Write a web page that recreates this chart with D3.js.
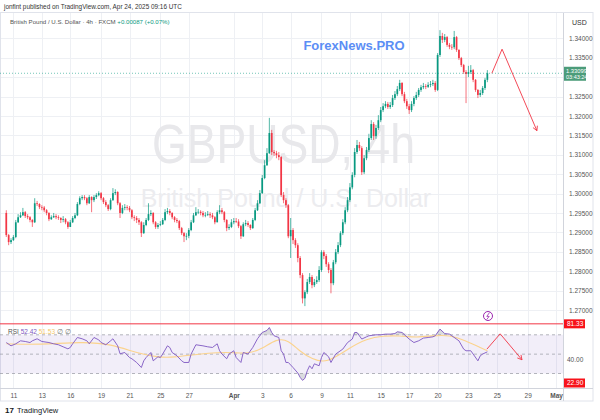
<!DOCTYPE html>
<html><head><meta charset="utf-8">
<script src="https://cdn.jsdelivr.net/npm/d3@7"></script>
<style>body{margin:0;background:#fff}svg{display:block;font-family:"Liberation Sans",Arial,sans-serif}</style>
</head><body><svg id="c" width="600" height="420"></svg>
<script>
// ---------- data ----------
const firstBar = -3;
const firstOpen = 1.2950;
const closes = [1.2893,1.2875,1.2880,1.2888,1.2926,1.2939,1.2944,1.2952,1.2942,1.2939,1.2932,1.2926,1.2975,
1.2973,1.2965,1.2964,1.2957,1.2950,1.2934,1.2939,1.2942,1.2939,1.2937,
1.2932,1.2934,1.2926,1.2914,1.2926,1.2937,1.2944,1.2973,1.2988,1.2991,
1.2988,1.2975,1.2991,1.2983,1.2991,1.2996,1.3001,1.2988,1.2978,1.2970,
1.2960,1.2983,1.3001,1.3004,1.2975,1.2950,1.2963,1.2965,1.2963,1.2957,
1.2939,1.2937,1.2932,1.2926,1.2898,1.2919,1.2932,1.2947,1.2950,1.2926,
1.2914,1.2919,1.2921,1.2932,1.2952,1.2955,1.2950,1.2939,1.2932,1.2929,
1.2911,1.2898,1.2890,1.2891,1.2906,1.2926,1.2944,1.2952,1.2953,1.2950,
1.2944,1.2945,1.2947,1.2944,1.2939,1.2926,1.2952,1.2957,1.2952,1.2932,
1.2911,1.2914,1.2926,1.2929,1.2928,1.2916,1.2890,1.2921,1.2924,1.2919,
1.2911,1.2932,1.2957,1.2975,1.3001,1.3040,1.3073,1.3104,1.3156,1.3107,
1.3104,1.3099,1.3094,1.2996,1.2983,1.2970,1.2890,1.2906,1.2880,1.2867,
1.2834,1.2790,1.2730,1.2746,1.2772,1.2785,1.2764,1.2772,1.2777,1.2803,
1.2849,1.2839,1.2818,1.2803,1.2769,1.2823,1.2849,1.2867,1.2898,1.2926,
1.2957,1.2983,1.3016,1.3048,1.3107,1.3125,1.3117,1.3055,1.3091,1.3112,
1.3143,1.3179,1.3148,1.3169,1.3189,1.3215,1.3225,1.3231,1.3223,1.3228,
1.3246,1.3256,1.3269,1.3285,1.3256,1.3238,1.3225,1.3215,1.3231,1.3246,
1.3254,1.3267,1.3274,1.3277,1.3275,1.3280,1.3282,1.3285,1.3267,1.3357,
1.3406,1.3396,1.3403,1.3383,1.3378,1.3377,1.3403,1.3370,1.3349,1.3331,
1.3313,1.3308,1.3313,1.3318,1.3293,1.3267,1.3254,1.3259,1.3272,1.3293,1.33099];
const highs = [1.2957,1.2896,1.2885,1.2893,1.2932,1.2947,1.2952,1.2963,1.2955,1.2947,1.2942,1.2934,1.2988,
1.2981,1.2975,1.2970,1.2968,1.2960,1.2952,1.2944,1.2950,1.2947,1.2944,
1.2939,1.2942,1.2937,1.2929,1.2932,1.2942,1.2950,1.2978,1.2993,1.2996,
1.2996,1.2991,1.2996,1.2993,1.2996,1.3001,1.3006,1.3004,1.2991,1.2983,
1.2973,1.2988,1.3014,1.3011,1.3006,1.2978,1.2970,1.2973,1.2970,1.2968,
1.2960,1.2944,1.2942,1.2937,1.2929,1.2926,1.2937,1.2975,1.2957,1.2952,
1.2929,1.2924,1.2929,1.2937,1.2960,1.2963,1.2960,1.2952,1.2942,1.2937,
1.2932,1.2914,1.2901,1.2898,1.2911,1.2932,1.2950,1.2965,1.2960,1.2957,
1.2955,1.2952,1.2955,1.2952,1.2950,1.2942,1.2957,1.2970,1.2963,1.2955,
1.2934,1.2921,1.2934,1.2937,1.2937,1.2934,1.2919,1.2926,1.2932,1.2929,
1.2921,1.2937,1.2963,1.2983,1.3009,1.3048,1.3086,1.3117,1.3195,1.3164,
1.3112,1.3110,1.3107,1.3097,1.3004,1.2988,1.2973,1.2937,1.2911,1.2885,
1.2872,1.2839,1.2795,1.2751,1.2780,1.2795,1.2790,1.2780,1.2787,1.2813,
1.2854,1.2854,1.2844,1.2823,1.2808,1.2829,1.2857,1.2875,1.2903,1.2934,
1.2965,1.2991,1.3027,1.3055,1.3117,1.3138,1.3133,1.3122,1.3099,1.3120,
1.3154,1.3189,1.3184,1.3177,1.3202,1.3223,1.3233,1.3238,1.3236,1.3236,
1.3254,1.3264,1.3277,1.3293,1.3287,1.3262,1.3244,1.3231,1.3238,1.3251,
1.3262,1.3272,1.3280,1.3285,1.3282,1.3287,1.3290,1.3293,1.3290,1.3362,
1.3421,1.3414,1.3411,1.3406,1.3388,1.3385,1.3419,1.3406,1.3372,1.3352,
1.3334,1.3318,1.3329,1.3331,1.3321,1.3295,1.3269,1.3267,1.3277,1.3298,1.3318];
const lows = [1.2888,1.2867,1.2870,1.2878,1.2885,1.2924,1.2937,1.2942,1.2937,1.2934,1.2926,1.2914,1.2924,
1.2968,1.2960,1.2957,1.2952,1.2944,1.2929,1.2932,1.2937,1.2934,1.2932,
1.2924,1.2926,1.2921,1.2909,1.2914,1.2924,1.2934,1.2942,1.2970,1.2983,
1.2983,1.2970,1.2973,1.2952,1.2978,1.2986,1.2993,1.2983,1.2973,1.2965,
1.2955,1.2957,1.2981,1.2996,1.2970,1.2937,1.2947,1.2957,1.2957,1.2952,
1.2934,1.2929,1.2924,1.2919,1.2888,1.2896,1.2916,1.2929,1.2942,1.2921,
1.2909,1.2909,1.2916,1.2919,1.2929,1.2947,1.2944,1.2934,1.2926,1.2924,
1.2906,1.2893,1.2875,1.2880,1.2885,1.2903,1.2924,1.2942,1.2947,1.2944,
1.2939,1.2939,1.2942,1.2937,1.2934,1.2921,1.2926,1.2947,1.2947,1.2926,
1.2903,1.2906,1.2911,1.2921,1.2924,1.2911,1.2883,1.2888,1.2916,1.2914,
1.2906,1.2909,1.2929,1.2955,1.2973,1.2999,1.3037,1.3071,1.3102,1.3099,
1.3097,1.3091,1.3086,1.2991,1.2975,1.2963,1.2885,1.2834,1.2870,1.2860,
1.2823,1.2782,1.2717,1.2710,1.2741,1.2767,1.2756,1.2759,1.2767,1.2772,
1.2798,1.2831,1.2811,1.2795,1.2743,1.2764,1.2818,1.2844,1.2862,1.2893,
1.2921,1.2952,1.2978,1.3011,1.3042,1.3102,1.3110,1.3048,1.3050,1.3086,
1.3107,1.3138,1.3138,1.3141,1.3164,1.3184,1.3210,1.3220,1.3218,1.3218,
1.3223,1.3241,1.3251,1.3264,1.3251,1.3233,1.3218,1.3205,1.3210,1.3225,
1.3241,1.3249,1.3262,1.3269,1.3269,1.3272,1.3274,1.3277,1.3262,1.3264,
1.3352,1.3388,1.3390,1.3378,1.3372,1.3370,1.3372,1.3365,1.3344,1.3326,
1.3308,1.3233,1.3300,1.3308,1.3287,1.3262,1.3246,1.3249,1.3254,1.3267,1.3287];

const rsiBars = [-3,-1,1,3,5,7,8,10,12,15,17,19,21,23,24,25,27,29,31,32,34,36,37,39,41,42,44,45,47,49,50,52,54,55,56,58,59,61,62,63,65,66,67,69,71,72,74,75,77,80,82,84,86,87,88,90,91,93,94,96,97,99,101,103,105,107,108,109,110,112,113,114,115,116,118,120,121,122,123,124,125,126,127,129,130,131,133,134,136,139,141,143,144,145,147,149,150,153,155,157,159,161,162,164,167,169,171,173,175,177,178,180,182,184,185,188,190,191,193,194,196,197,198,200];
const rsiVals = [62.0,58.6,60.7,63.8,63.1,62.0,63.8,65.9,63.1,62.0,60.7,59.7,57.6,55.5,56.9,60.7,67.2,65.9,63.8,60.7,67.2,64.8,62.0,59.7,63.8,65.9,58.6,50.4,51.7,46.5,45.2,41.4,36.2,43.1,46.5,51.7,43.1,47.3,46.5,50.1,58.6,56.9,51.7,48.3,43.1,41.4,41.4,50.1,59.7,58.6,57.6,56.9,60.7,53.5,50.1,45.2,50.1,53.5,46.5,41.4,51.7,50.1,56.9,65.9,72.4,74.5,77.5,72.4,69.0,67.2,53.5,50.1,41.4,41.4,36.2,30.5,26.0,22.9,25.0,32.8,38.0,34.9,40.0,38.0,46.5,51.7,47.3,41.4,50.1,55.2,62.0,65.6,72.4,72.4,65.6,67.9,69.0,70.0,70.0,70.7,70.7,71.3,73.1,72.4,65.6,62.0,63.8,66.6,67.2,67.9,69.0,75.9,71.3,70.7,69.0,63.8,55.2,53.5,53.5,50.1,43.1,48.3,50.1,52.4];
const maBars = [-3,11,29,41,53,62,67,79,86,93,99,105,111,116,121,126,132,142,149,156,163,170,177,184,191,197,200];
const maVals = [60.7,59.7,62.8,60.7,50.4,46.5,46.5,50.4,51.7,51.7,50.4,55.5,65.9,64.8,52.4,45.2,40.0,56.9,65.9,69.0,69.0,67.2,69.0,70.0,63.8,56.9,53.5];

const priceTicks = [1.27,1.275,1.28,1.285,1.29,1.295,1.30,1.305,1.31,1.315,1.32,1.325,1.33,1.335,1.34];
const dateLabels = ["11","13","16","19","21","25","27","Apr","3","6","9","11","15","17","20","23","25","29","May"];
const dateBars = [0,12,24,37,49,62,74,93,105,117,130,142,155,167,179,192,204,217,229];
const lastPrice = 1.33099, countdown = "03:43:24";
const rsiLast = 52.42, rsiMaLast = 51.53, rsiHigh = 81.33, rsiLow = 22.90;
const drawPriceBars = [201.9, 206.2, 220.9], drawPrices = [1.3310, 1.3372, 1.3162];
const drawRsiBars = [199.8, 205.4, 214.6], drawRsiVals = [55.2, 71.0, 44.2];

// ---------- layout ----------
const svg = d3.select("#c");
const plotR = 563;
const x = d3.scaleLinear().domain([0, 229]).range([13.4, 556.1]);
const y = d3.scaleLinear().domain([1.27, 1.34]).range([310, 38.3]);
const ry = d3.scaleLinear().domain([30, 70]).range([373.5, 334.8]);
const UP = "#089981", DN = "#f23645";
const bars = closes.map((c, i) => {
  const o = i === 0 ? firstOpen : closes[i - 1];
  return {k: firstBar + i, o, c, h: Math.max(highs[i], o, c), l: Math.min(lows[i], o, c)};
});

// frame
svg.append("rect").attr("x", 0.5).attr("y", 12.5).attr("width", 592.5).attr("height", 388.5)
  .attr("fill", "none").attr("stroke", "#e0e3eb");

// grid
const g = svg.append("g");
priceTicks.forEach(p => g.append("line").attr("x1", 1).attr("x2", plotR)
  .attr("y1", Math.round(y(p)) + .5).attr("y2", Math.round(y(p)) + .5).attr("stroke", "#eef0f4"));
dateBars.forEach(b => g.append("line").attr("x1", Math.round(x(b)) + .5).attr("x2", Math.round(x(b)) + .5)
  .attr("y1", 13).attr("y2", 388).attr("stroke", "#eef0f4"));

// watermark
svg.append("text").attr("x", 152).attr("y", 163).attr("textLength", 263).attr("lengthAdjust", "spacingAndGlyphs")
  .attr("font-size", 56).attr("fill", "#e8e8eb").text("GBPUSD, 4h");
svg.append("text").attr("x", 286).attr("y", 207).attr("text-anchor", "middle")
  .attr("font-size", 25).attr("fill", "#ececef").text("British Pound / U.S. Dollar");

// ForexNews
svg.append("text").attr("x", 354).attr("y", 50).attr("text-anchor", "middle")
  .attr("font-size", 13).attr("font-weight", "bold").attr("fill", "#5b8ef5").text("ForexNews.PRO");

// candles
const cg = svg.append("g");
bars.forEach(b => {
  const col = b.c >= b.o ? UP : DN;
  const cx = x(b.k);
  cg.append("line").attr("x1", cx).attr("x2", cx).attr("y1", y(b.h)).attr("y2", y(b.l))
    .attr("stroke", col).attr("stroke-width", 0.7);
  const top = y(Math.max(b.o, b.c)), bot = y(Math.min(b.o, b.c));
  cg.append("rect").attr("x", cx - 0.85).attr("width", 1.7).attr("y", top)
    .attr("height", Math.max(0.7, bot - top)).attr("fill", col);
});

// last price line
svg.append("line").attr("x1", 0).attr("x2", plotR).attr("y1", y(lastPrice)).attr("y2", y(lastPrice))
  .attr("stroke", UP).attr("stroke-width", 0.7).attr("stroke-dasharray", "1,2").attr("opacity", 0.8);

// drawing arrow (price)
const dl = d3.line();
const pp = drawPriceBars.map((b, i) => [x(b), y(drawPrices[i])]);
svg.append("path").attr("d", dl(pp)).attr("fill", "none").attr("stroke", DN).attr("stroke-width", 0.9);
function arrowHead(p0, p1) {
  const a = Math.atan2(p1[1] - p0[1], p1[0] - p0[0]), L = 5;
  const h1 = [p1[0] - L * Math.cos(a - 0.5), p1[1] - L * Math.sin(a - 0.5)];
  const h2 = [p1[0] - L * Math.cos(a + 0.5), p1[1] - L * Math.sin(a + 0.5)];
  svg.append("path").attr("d", dl([h1, p1, h2])).attr("fill", "none").attr("stroke", DN).attr("stroke-width", 0.9);
}
arrowHead(pp[1], pp[2]);

// alert icon
svg.append("circle").attr("cx", 488).attr("cy", 316).attr("r", 4.5).attr("fill", "#fff")
  .attr("stroke", "#9c27b0").attr("stroke-width", 1);
svg.append("path").attr("d", "M489.5,312.5 L486.8,316.4 L489.2,316.4 L486.6,319.6").attr("fill", "none")
  .attr("stroke", "#9c27b0").attr("stroke-width", 0.8);

// ---------- RSI pane ----------
svg.append("rect").attr("x", 0).attr("width", plotR).attr("y", ry(70)).attr("height", ry(30) - ry(70))
  .attr("fill", "#7e57c2").attr("opacity", 0.1);
[70, 50, 30].forEach(v => svg.append("line").attr("x1", 0).attr("x2", plotR).attr("y1", ry(v)).attr("y2", ry(v))
  .attr("stroke", "#9598a1").attr("stroke-width", 0.7).attr("stroke-dasharray", "3,3"));
svg.append("line").attr("x1", 0).attr("x2", plotR).attr("y1", ry(rsiHigh)).attr("y2", ry(rsiHigh))
  .attr("stroke", DN).attr("stroke-width", 1);

const rsiPts = rsiBars.map((b, i) => ({b, v: rsiVals[i]}));
svg.append("path").datum(rsiPts)
  .attr("d", d3.area().x(d => x(d.b)).y0(ry(70)).y1(d => ry(Math.max(70, d.v))))
  .attr("fill", "#9598a1").attr("opacity", 0.35);
svg.append("path").datum(rsiPts)
  .attr("d", d3.area().x(d => x(d.b)).y0(ry(30)).y1(d => ry(Math.min(30, d.v))))
  .attr("fill", "#9598a1").attr("opacity", 0.35);
const maPts = maBars.map((b, i) => ({b, v: maVals[i]}));
svg.append("path").datum(maPts)
  .attr("d", d3.line().x(d => x(d.b)).y(d => ry(d.v)).curve(d3.curveBasis))
  .attr("fill", "none").attr("stroke", "#fbd38d").attr("stroke-width", 1.1);
svg.append("path").datum(rsiPts)
  .attr("d", d3.line().x(d => x(d.b)).y(d => ry(d.v)))
  .attr("fill", "none").attr("stroke", "#7e57c2").attr("stroke-width", 0.9);

const rp = drawRsiBars.map((b, i) => [x(b), ry(drawRsiVals[i])]);
svg.append("path").attr("d", dl(rp)).attr("fill", "none").attr("stroke", DN).attr("stroke-width", 0.9);
arrowHead(rp[1], rp[2]);

// RSI legend
const lg = svg.append("text").attr("x", 8).attr("y", 333.5).attr("font-size", 6.5);
lg.append("tspan").attr("fill", "#555").text("RSI ");
lg.append("tspan").attr("fill", "#7e57c2").text(rsiLast.toFixed(2) + "  ");
lg.append("tspan").attr("fill", "#f5c86a").text(rsiMaLast.toFixed(2) + "  ");
lg.append("tspan").attr("fill", "#777").text("\u2205  \u2205");

// ---------- axes ----------
svg.append("line").attr("x1", plotR + .5).attr("x2", plotR + .5).attr("y1", 13).attr("y2", 401).attr("stroke", "#d1d4dc");
svg.append("line").attr("x1", 0).attr("x2", 593).attr("y1", 388.5).attr("y2", 388.5).attr("stroke", "#d1d4dc");
const yAxis = svg.append("g").attr("transform", `translate(${plotR},0)`)
  .call(d3.axisRight(y).tickValues(priceTicks.filter(p => Math.abs(y(p) - y(lastPrice)) > 8))
    .tickFormat(d3.format(".5f")).tickSize(0).tickPadding(6));
yAxis.select(".domain").remove();
yAxis.selectAll("text").attr("font-size", 6.5).attr("fill", "#555").attr("font-family", "Liberation Sans, Arial");
svg.append("text").attr("x", 572).attr("y", 25).attr("font-size", 7).attr("fill", "#333").text("USD");

// last price label
const ly = y(lastPrice);
svg.append("rect").attr("x", 564).attr("y", ly - 6.5).attr("width", 22).attr("height", 14).attr("fill", "#4c9c7a");
svg.append("text").attr("x", 566).attr("y", ly - 0.3).attr("font-size", 5.8).attr("fill", "#fff").text(lastPrice.toFixed(5));
svg.append("text").attr("x", 566).attr("y", ly + 5.6).attr("font-size", 5.5).attr("fill", "#fff").text(countdown);

// RSI labels
[[rsiHigh, ry(rsiHigh)], [rsiLow, 383]].forEach(([v, yy]) => {
  svg.append("rect").attr("x", 564).attr("y", yy - 4.5).attr("width", 21).attr("height", 9).attr("fill", "#f7131b");
  svg.append("text").attr("x", 567).attr("y", yy + 2.3).attr("font-size", 6.5).attr("fill", "#fff").text(v.toFixed(2));
});
svg.append("text").attr("x", 567).attr("y", 362).attr("font-size", 6.5).attr("fill", "#555").text("40.00");

// x axis
const xAxis = svg.append("g").attr("transform", "translate(0,388)")
  .call(d3.axisBottom(x).tickValues(dateBars).tickFormat((d, i) => dateLabels[i]).tickSize(0).tickPadding(5));
xAxis.select(".domain").remove();
xAxis.selectAll("text").attr("font-size", 6.5).attr("fill", "#555").attr("font-family", "Liberation Sans, Arial")
  .attr("font-weight", (d, i) => (dateLabels[i] === "Apr" || dateLabels[i] === "May") ? "bold" : null);

// header
svg.append("text").attr("x", 4).attr("y", 9).attr("font-size", 6.4).attr("fill", "#333")
  .text("jonfint published on TradingView.com, Apr 24, 2025 09:16 UTC");
const h2 = svg.append("text").attr("x", 10).attr("y", 23.5).attr("font-size", 6.1);
h2.append("tspan").attr("fill", "#555").text("British Pound / U.S. Dollar \u00b7 4h \u00b7 FXCM  ");
h2.append("tspan").attr("fill", UP).text("+0.00087 (+0.07%)");

// footer logo
svg.append("text").attr("x", 5).attr("y", 413).attr("font-size", 8).attr("font-weight", "bold").attr("fill", "#131722").text("17");
svg.append("text").attr("x", 17).attr("y", 413).attr("font-size", 7.5).attr("fill", "#131722").text("TradingView");
</script></body></html>
